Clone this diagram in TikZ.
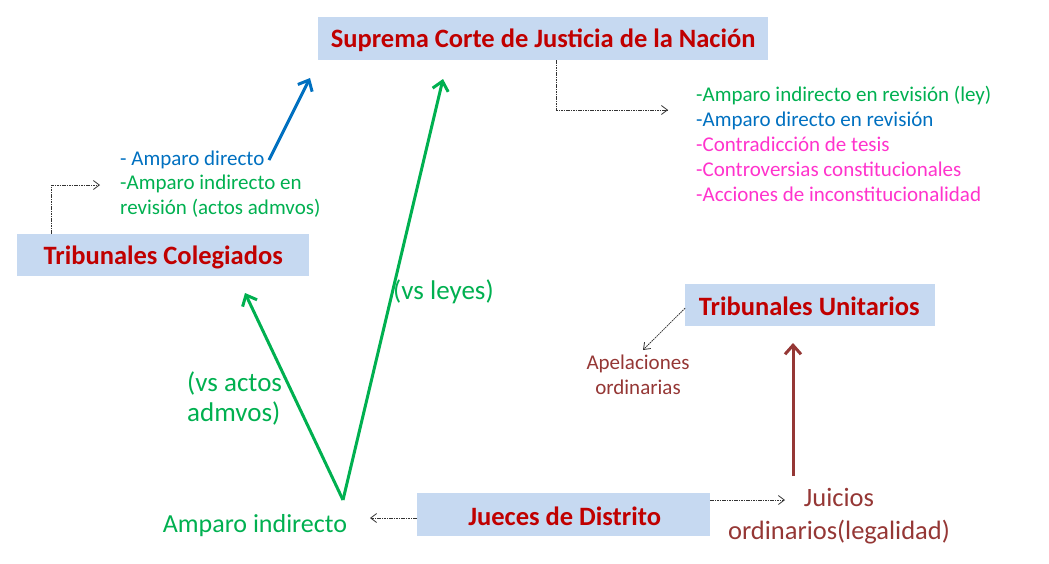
\documentclass[tikz,border=0pt]{standalone}
\usepackage{fontspec}
\setmainfont{Carlito}
\usetikzlibrary{arrows.meta}
\definecolor{boxfill}{HTML}{C6D9F1}
\definecolor{titlered}{HTML}{C00000}
\definecolor{ogreen}{HTML}{00B050}
\definecolor{oblue}{HTML}{0070C0}
\definecolor{omag}{HTML}{FF33CC}
\definecolor{obrown}{HTML}{953735}
\tikzset{
  boxnode/.style={fill=boxfill, inner sep=0pt, anchor=north west},
  title/.style={text=titlered, font=\fontsize{26.5}{30}\selectfont\bfseries},
  lbl/.style={inner sep=0pt, align=left},
  thin dash/.style={draw=black!80, line width=0.8pt, dash pattern=on 1.6pt off 0.8pt, -{Straight Barb[length=6pt,width=9pt]}},
  thick arr/.style={line width=3pt, -{Straight Barb[length=9pt,width=16pt,line width=3pt]}},
}
\begin{document}
\begin{tikzpicture}[x=1pt,y=-1pt]
\useasboundingbox (0,0) rectangle (1049,563);
% boxes
\node[boxnode, minimum width=450pt, minimum height=43pt] (scjn) at (318,17) {};
\node[title] at ([yshift=-2pt]scjn.center) {Suprema Corte de Justicia de la Nación};
\node[boxnode, minimum width=292pt, minimum height=42pt] (tc) at (17,234) {};
\node[title] at ([yshift=-2.5pt]tc.center) {Tribunales Colegiados};
\node[boxnode, minimum width=250pt, minimum height=42pt] (tu) at (685,284) {};
\node[title] at ([xshift=-1pt,yshift=-1.5pt]tu.center) {Tribunales Unitarios};
\node[boxnode, minimum width=293pt, minimum height=43pt] (jd) at (417,493) {};
\node[title] at ([xshift=1pt,yshift=-2pt]jd.center) {Jueces de Distrito};
% texts
\node[lbl, anchor=west, text=oblue, font=\fontsize{21}{24}\selectfont] (ad) at (120,160) {- Amparo directo};
\node[lbl, anchor=north west, text=ogreen, font=\fontsize{21}{24.5}\selectfont] (ai) at (120,175) {-Amparo indirecto en\\revisión (actos admvos)};
\node[lbl, anchor=north west, font=\fontsize{21}{25}\selectfont] (list) at (696,86) {\textcolor{ogreen}{-Amparo indirecto en revisión (ley)}\\\textcolor{oblue}{-Amparo directo en revisión}\\\textcolor{omag}{-Contradicción de tesis}\\\textcolor{omag}{-Controversias constitucionales}\\\textcolor{omag}{-Acciones de inconstitucionalidad}};
\node[lbl, align=center, text=obrown, font=\fontsize{21}{25}\selectfont] (apel) at (638,375) {Apelaciones\\ordinarias};
\node[lbl, align=center, text=obrown, font=\fontsize{26.5}{33}\selectfont] (juic) at (839,516.5) {Juicios\\ordinarios(legalidad)};
\node[lbl, text=ogreen, font=\fontsize{26}{30}\selectfont] (amp) at (255,526) {Amparo indirecto};
\node[lbl, anchor=west, text=ogreen, font=\fontsize{27}{30}\selectfont] (vsl) at (393,292) {(vs leyes)};
\node[lbl, anchor=west, text=ogreen, font=\fontsize{27}{30}\selectfont] (vsa) at (187,398.5) {(vs actos\\admvos)};
% coordinates
\coordinate (apex) at (343,500);
\coordinate (scjnin) at (443,79);
\coordinate (tcin) at (245,293);
\coordinate (bluestart) at (269,160);
\coordinate (bluein) at (310,78);
\coordinate (tuin) at (793,343);
\coordinate (juicout) at (793,476);
% thick arrows
\draw[thick arr, draw=ogreen] (apex) -- (scjnin);
\draw[thick arr, draw=ogreen] (apex) -- (tcin);
\draw[thick arr, draw=oblue] (bluestart) -- (bluein);
\draw[thick arr, draw=obrown] (juicout) -- (tuin);
% thin dashed connectors
\draw[thin dash] (556,60) |- (668,110);
\draw[thin dash] (51,234) |- (100,185);
\draw[thin dash] (tu.west) ++(0,3) -- (643,350);
\draw[thin dash] (417,518) -- (370,518);
\draw[thin dash] (710,500) -- (785,500);
\end{tikzpicture}
\end{document}
